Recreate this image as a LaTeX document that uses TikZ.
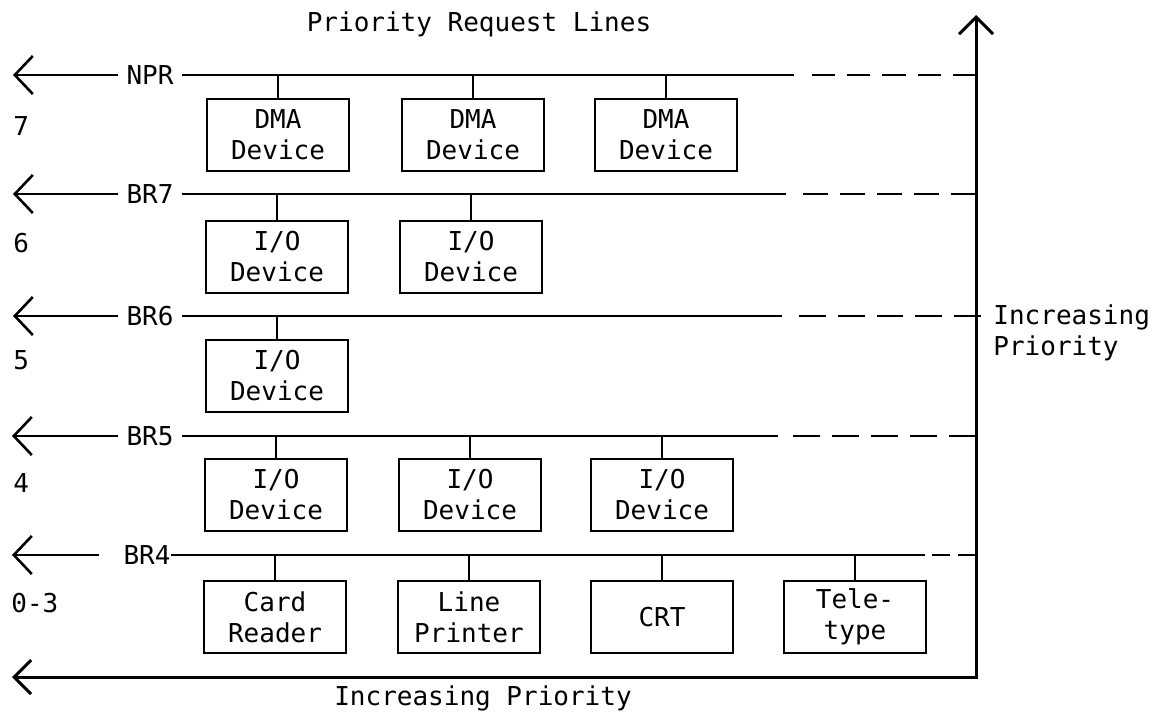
\documentclass[tikz,border=0pt]{standalone}
\usepackage{fontspec}
\setmainfont{DejaVu Sans Mono}
\usepackage{tikz}
\usetikzlibrary{arrows.meta, positioning}
\tikzstyle{dev} = [rectangle, draw, line width=1.4pt, minimum width=71pt, minimum height=36pt, align=center, inner sep=0pt, font=\fontsize{13}{15.5}\selectfont]
\tikzstyle{bus} = [inner sep=4pt, font=\fontsize{13}{15.5}\selectfont]
\tikzstyle{lbl} = [inner sep=0pt, font=\fontsize{13}{15.5}\selectfont]
\tikzstyle{line} = [draw, line width=1.4pt]
\tikzstyle{dline} = [draw, line width=1.4pt, dash pattern=on 11.6pt off 6pt]
\tikzstyle{arr} = [draw, line width=1.3pt, -{Straight Barb[length=9pt, width=19pt]}]
\tikzstyle{axis} = [draw, line width=1.5pt, {Straight Barb[length=8.5pt, width=17pt]}-{Straight Barb[length=8.5pt, width=17pt]}]

\begin{document}
\begin{tikzpicture}[x=0.5pt, y=-0.5pt]
	\useasboundingbox (0,0) rectangle (1160,718);

	% bus labels
	\node [bus] (npr) at (150, 75) {NPR};
	\node [bus] (br7) at (150, 194) {BR7};
	\node [bus] (br6) at (150, 316) {BR6};
	\node [bus] (br5) at (150, 436) {BR5};
	\node [bus, inner xsep=0pt] (br4) at (147, 555) {BR4};

	% priority levels
	\node [lbl, anchor=west] (p7) at (13, 126) {7};
	\node [lbl, anchor=west] (p6) at (13, 243) {6};
	\node [lbl, anchor=west] (p5) at (13, 360) {5};
	\node [lbl, anchor=west] (p4) at (13, 483) {4};
	\node [lbl, anchor=west] (p03) at (11, 603) {0-3};

	% devices
	\node [dev] (dma1) at (278, 135) {DMA\\Device};
	\node [dev] (dma2) at (473, 135) {DMA\\Device};
	\node [dev] (dma3) at (666, 135) {DMA\\Device};
	\node [dev] (io71) at (277, 257) {I/O\\Device};
	\node [dev] (io72) at (471, 257) {I/O\\Device};
	\node [dev] (io61) at (277, 376) {I/O\\Device};
	\node [dev] (io51) at (276, 495) {I/O\\Device};
	\node [dev] (io52) at (470, 495) {I/O\\Device};
	\node [dev] (io53) at (662, 495) {I/O\\Device};
	\node [dev] (card) at (275, 617) {Card\\Reader};
	\node [dev] (lpr) at (469, 617) {Line\\Printer};
	\node [dev] (crt) at (662, 617) {CRT};
	\node [dev] (tty) at (855, 617) {Tele-\\type};

	% texts
	\node [lbl] (title) at (479, 24) {Priority Request Lines};
	\node [lbl] (hprio) at (483, 698) {Increasing Priority};
	\node [lbl, anchor=west, align=left] (vprio) at (993, 333) {Increasing\\Priority};

	% bus ends
	\coordinate (nprT) at (13, 75);
	\coordinate (nprS) at (794, 75);
	\coordinate (nprD) at (812, 75);
	\coordinate (nprE) at (976, 75);
	\coordinate (br7T) at (13, 194);
	\coordinate (br7S) at (786, 194);
	\coordinate (br7D) at (803, 194);
	\coordinate (br7E) at (976, 194);
	\coordinate (br6T) at (13, 316);
	\coordinate (br6S) at (782, 316);
	\coordinate (br6D) at (797, 316);
	\coordinate (br6E) at (981, 316);
	\coordinate (br5T) at (12, 436);
	\coordinate (br5S) at (778, 436);
	\coordinate (br5D) at (793, 436);
	\coordinate (br5E) at (976, 436);
	\coordinate (br4T) at (12, 555);
	\coordinate (br4S) at (925, 555);
	\coordinate (br4D) at (932, 555);
	\coordinate (br4E) at (976, 555);
	\coordinate (botL) at (12, 677);
	\coordinate (corner) at (976, 677);
	\coordinate (top) at (976, 15);

	\path [arr] (npr.west) -- (nprT);
	\path [arr] (br7.west) -- (br7T);
	\path [arr] (br6.west) -- (br6T);
	\path [arr] (br5.west) -- (br5T);
	\path [arr, shorten <=12pt] (br4.west) -- (br4T);

	\path [line] (npr.east) -- (nprS);
	\path [dline] (nprE) -- (nprD);
	\path [line] (br7.east) -- (br7S);
	\path [dline, dash pattern=on 12.5pt off 6pt] (br7E) -- (br7D);
	\path [line] (br6.east) -- (br6S);
	\path [dline, dash pattern=on 13.4pt off 6pt] (br6E) -- (br6D);
	\path [line] (br5.east) -- (br5S);
	\path [dline, dash pattern=on 13.5pt off 6pt] (br5E) -- (br5D);
	\path [line] (br4.east) -- (br4S);
	\path [dline, dash pattern=on 9pt off 4pt] (br4E) -- (br4D);

	\path [line] (dma1.north) -- (dma1.north |- npr);
	\path [line] (dma2.north) -- (dma2.north |- npr);
	\path [line] (dma3.north) -- (dma3.north |- npr);
	\path [line] (io71.north) -- (io71.north |- br7);
	\path [line] (io72.north) -- (io72.north |- br7);
	\path [line] (io61.north) -- (io61.north |- br6);
	\path [line] (io51.north) -- (io51.north |- br5);
	\path [line] (io52.north) -- (io52.north |- br5);
	\path [line] (io53.north) -- (io53.north |- br5);
	\path [line] (card.north) -- (card.north |- br4);
	\path [line] (lpr.north) -- (lpr.north |- br4);
	\path [line] (crt.north) -- (crt.north |- br4);
	\path [line] (tty.north) -- (tty.north |- br4);

	\path [axis] (botL) -- (corner) -- (top);
\end{tikzpicture}
\end{document}
